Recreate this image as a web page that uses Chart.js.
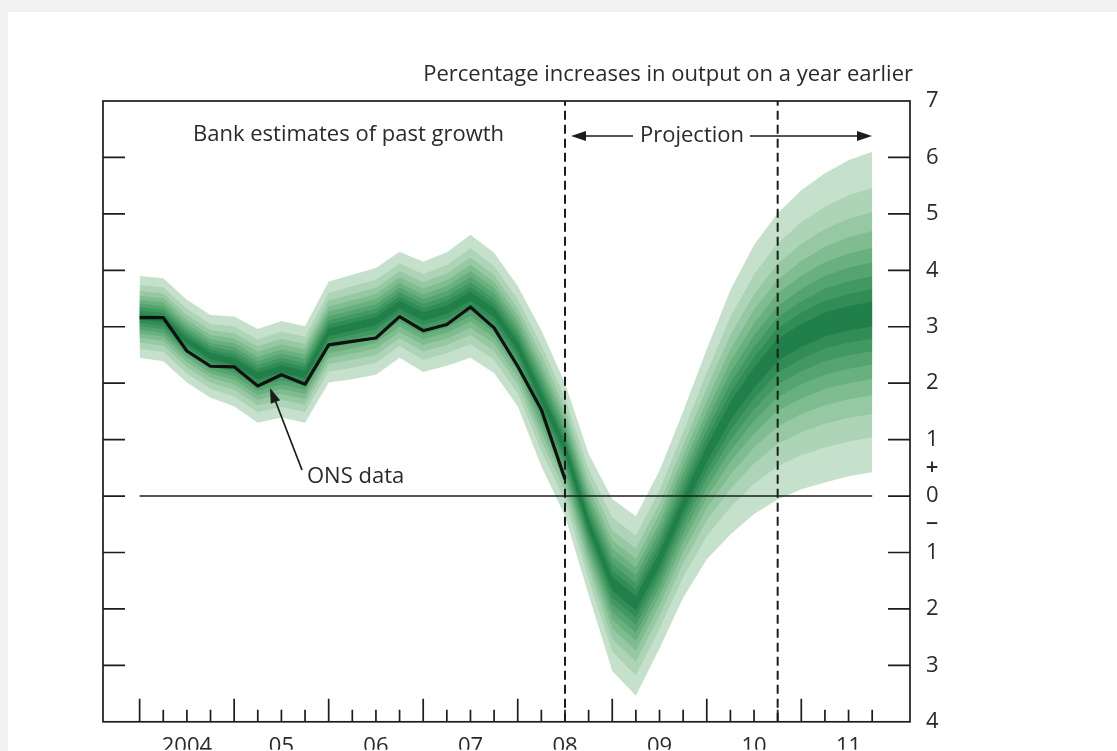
<!DOCTYPE html>
<html>
<head>
<meta charset="utf-8">
<title>GDP projection fan chart</title>
<script src="https://cdn.jsdelivr.net/npm/chart.js@4.4.1/dist/chart.umd.min.js"></script>
<style>
  html, body { margin: 0; padding: 0; background: #f1f1f1; }
  canvas { display: block; }
</style>
</head>
<body>
<canvas id="fan" width="1117" height="751"></canvas>
<script>
// Quarterly periods on the horizontal axis (index 0 = 2004 Q1)
const quarters = [
  '2004 Q1','2004 Q2','2004 Q3','2004 Q4','2005 Q1','2005 Q2','2005 Q3','2005 Q4',
  '2006 Q1','2006 Q2','2006 Q3','2006 Q4','2007 Q1','2007 Q2','2007 Q3','2007 Q4',
  '2008 Q1','2008 Q2','2008 Q3','2008 Q4','2009 Q1','2009 Q2','2009 Q3','2009 Q4',
  '2010 Q1','2010 Q2','2010 Q3','2010 Q4','2011 Q1','2011 Q2','2011 Q3','2011 Q4'
];
const yearLabels = ['2004', '05', '06', '07', '08', '09', '10', '11'];
const yTickValues = [7, 6, 5, 4, 3, 2, 1, 0, -1, -2, -3, -4];

// ONS four-quarter GDP growth, per cent (2004 Q1 to 2008 Q3)
const onsGrowth = [3.16, 3.16, 2.57, 2.30, 2.29, 1.95, 2.15, 1.98, 2.68, 2.74,
                   2.80, 3.18, 2.93, 3.04, 3.35, 2.98, 2.30, 1.53, 0.30];

// Fan: most likely path and the edges of the 90% band
const fanCentre = [3.18, 3.13, 2.75, 2.48, 2.38, 2.13, 2.25, 2.16, 2.90, 3.00,
                   3.10, 3.39, 3.18, 3.30, 3.54, 3.25, 2.65, 1.75, 0.85, -0.50,
                   -1.55, -1.90, -1.12, -0.15, 0.74, 1.50, 2.10, 2.60, 2.85, 3.05,
                   3.15, 3.22];
const fanUpper90 = [3.90, 3.86, 3.48, 3.21, 3.18, 2.96, 3.10, 3.01, 3.80, 3.92,
                    4.04, 4.33, 4.15, 4.32, 4.63, 4.31, 3.72, 2.94, 2.00, 0.75,
                    -0.05, -0.36, 0.45, 1.50, 2.60, 3.65, 4.45, 5.01, 5.42, 5.72,
                    5.95, 6.10];
const fanLower90 = [2.45, 2.39, 2.01, 1.74, 1.59, 1.30, 1.39, 1.30, 2.01, 2.07,
                    2.15, 2.45, 2.20, 2.31, 2.45, 2.18, 1.59, 0.53, -0.35, -1.75,
                    -3.10, -3.54, -2.70, -1.80, -1.12, -0.68, -0.32, -0.06, 0.12, 0.24,
                    0.35, 0.42];

// Width of each probability band (90% ... 10%) as a share of the 90% band
const bandShares = [1.000, 0.779, 0.630, 0.512, 0.410, 0.319, 0.234, 0.154, 0.077];
const bandColours = ['#c6e1cb', '#aed4b7', '#96c8a3', '#7fbc90', '#69b07f',
                     '#55a46f', '#429861', '#318c55', '#21804a'];

const projectionStart = 18;   // 2008 Q3
const horizonMarker = 27;     // 2010 Q4
const Y_MIN = -4, Y_MAX = 7;
const FONT = '"Open Sans", "DejaVu Sans", sans-serif';
const INK = '#1c1c1c';

const toPoints = (values) => values.map((v, i) => ({ x: i, y: v }));

const datasets = [];
bandShares.forEach((share, k) => {
  const upper = fanCentre.map((c, i) => c + (fanUpper90[i] - c) * share);
  const lower = fanCentre.map((c, i) => c - (c - fanLower90[i]) * share);
  datasets.push({
    label: 'band' + k + '-upper', data: toPoints(upper),
    fill: '+1', backgroundColor: bandColours[k],
    borderColor: 'rgba(0,0,0,0)', borderWidth: 0, pointRadius: 0, order: 100 - 2 * k
  });
  datasets.push({
    label: 'band' + k + '-lower', data: toPoints(lower),
    fill: false, borderColor: 'rgba(0,0,0,0)', borderWidth: 0, pointRadius: 0, order: 99 - 2 * k
  });
});
datasets.push({
  label: 'zero', data: [{ x: 0, y: 0 }, { x: quarters.length - 1, y: 0 }],
  borderColor: INK, borderWidth: 1.6, pointRadius: 0, fill: false, order: 5
});
[projectionStart, horizonMarker].forEach((q, k) => {
  datasets.push({
    label: 'marker' + k, data: [{ x: q, y: Y_MIN }, { x: q, y: Y_MAX }],
    borderColor: INK, borderWidth: 2, borderDash: [9, 5], pointRadius: 0, fill: false, order: 4
  });
});
datasets.push({
  label: 'ONS data', data: toPoints(onsGrowth),
  borderColor: '#111111', borderWidth: 3.2, pointRadius: 0, fill: false,
  borderJoinStyle: 'round', order: 1
});

function arrowHead(ctx, tipX, tipY, fromX, fromY, len, half) {
  const ang = Math.atan2(tipY - fromY, tipX - fromX);
  ctx.beginPath();
  ctx.moveTo(tipX, tipY);
  ctx.lineTo(tipX - len * Math.cos(ang) + half * Math.sin(ang), tipY - len * Math.sin(ang) - half * Math.cos(ang));
  ctx.lineTo(tipX - len * Math.cos(ang) - half * Math.sin(ang), tipY - len * Math.sin(ang) + half * Math.cos(ang));
  ctx.closePath();
  ctx.fill();
}

const decorations = {
  id: 'decorations',
  beforeDraw(chart) {
    const { ctx, width, height } = chart;
    ctx.save();
    ctx.fillStyle = '#f1f1f1';
    ctx.fillRect(0, 0, width, height);
    ctx.fillStyle = '#ffffff';
    ctx.fillRect(8, 12, width - 8, height - 12);
    ctx.restore();
  },
  afterDraw(chart) {
    const { ctx, chartArea: a, scales: { x, y } } = chart;
    ctx.save();
    ctx.strokeStyle = INK;
    ctx.fillStyle = INK;
    ctx.lineWidth = 1.7;

    // plot frame
    ctx.strokeRect(a.left, a.top, a.right - a.left, a.bottom - a.top);

    // inward value ticks on both sides
    ctx.beginPath();
    yTickValues.forEach(v => {
      if (v <= Y_MIN || v >= Y_MAX) return;
      const py = y.getPixelForValue(v);
      ctx.moveTo(a.left, py); ctx.lineTo(a.left + 22, py);
      ctx.moveTo(a.right - 22, py); ctx.lineTo(a.right, py);
    });
    ctx.stroke();

    // quarterly ticks, longer at the start of each year
    ctx.beginPath();
    quarters.forEach((q, i) => {
      const px = x.getPixelForValue(i);
      const len = i % 4 === 0 ? 23 : 12;
      ctx.moveTo(px, a.bottom); ctx.lineTo(px, a.bottom - len);
    });
    ctx.stroke();

    // sign markers beside the value labels
    ctx.font = '22px ' + FONT;
    ctx.fillStyle = '#2a2a2a';
    ctx.textAlign = 'center';
    ctx.textBaseline = 'middle';
    const signX = a.right + 22;
    ctx.font = '600 22px ' + FONT;
    ctx.fillText('+', signX, (y.getPixelForValue(1) + y.getPixelForValue(0)) / 2);
    ctx.fillText('\u2212', signX, (y.getPixelForValue(0) + y.getPixelForValue(-1)) / 2);
    ctx.font = '22px ' + FONT;

    // titles and annotations
    ctx.fillStyle = '#2a2a2a';
    ctx.textAlign = 'right';
    ctx.fillText('Percentage increases in output on a year earlier', 913, 75);
    ctx.textAlign = 'left';
    ctx.fillText('Bank estimates of past growth', 193, 135);
    ctx.fillText('ONS data', 307, 477);
    ctx.textAlign = 'center';
    ctx.fillText('Projection', 692, 136);

    // projection arrows
    ctx.fillStyle = INK;
    ctx.lineWidth = 1.7;
    ctx.beginPath();
    ctx.moveTo(582, 136); ctx.lineTo(633, 136);
    ctx.moveTo(750, 136); ctx.lineTo(860, 136);
    ctx.stroke();
    arrowHead(ctx, 571, 136, 600, 136, 15, 5);
    arrowHead(ctx, 872, 136, 840, 136, 15, 5);

    // pointer from the ONS label to the line
    ctx.beginPath();
    ctx.moveTo(302, 470); ctx.lineTo(275, 400);
    ctx.stroke();
    arrowHead(ctx, 270, 388, 302, 470, 15, 5);
    ctx.restore();
  }
};

new Chart(document.getElementById('fan'), {
  type: 'line',
  data: { datasets },
  options: {
    responsive: false,
    animation: false,
    events: [],
    layout: { padding: { left: 103, top: 101, right: 0, bottom: 0 } },
    plugins: { legend: { display: false }, tooltip: { enabled: false } },
    elements: { line: { tension: 0 } },
    scales: {
      x: {
        type: 'linear', position: 'bottom',
        min: -1.55, max: 32.6,
        grid: { display: false, drawTicks: false }, border: { display: false },
        afterBuildTicks: s => { s.ticks = yearLabels.map((_, k) => ({ value: 2 + 4 * k })); },
        afterFit: s => { s.height = 28; },
        ticks: {
          autoSkip: false, maxRotation: 0, padding: 12, color: '#2a2a2a',
          font: { family: FONT, size: 22 },
          callback: v => yearLabels[(v - 2) / 4]
        }
      },
      y: {
        type: 'linear', position: 'right',
        min: Y_MIN, max: Y_MAX,
        grid: { display: false, drawTicks: false }, border: { display: false },
        afterBuildTicks: s => { s.ticks = yTickValues.map(v => ({ value: v })); },
        afterFit: s => { s.width = 207; },
        ticks: {
          padding: 16, color: '#2a2a2a',
          font: { family: FONT, size: 22 },
          callback: v => String(Math.abs(v))
        }
      }
    }
  },
  plugins: [decorations]
});
</script>
</body>
</html>
